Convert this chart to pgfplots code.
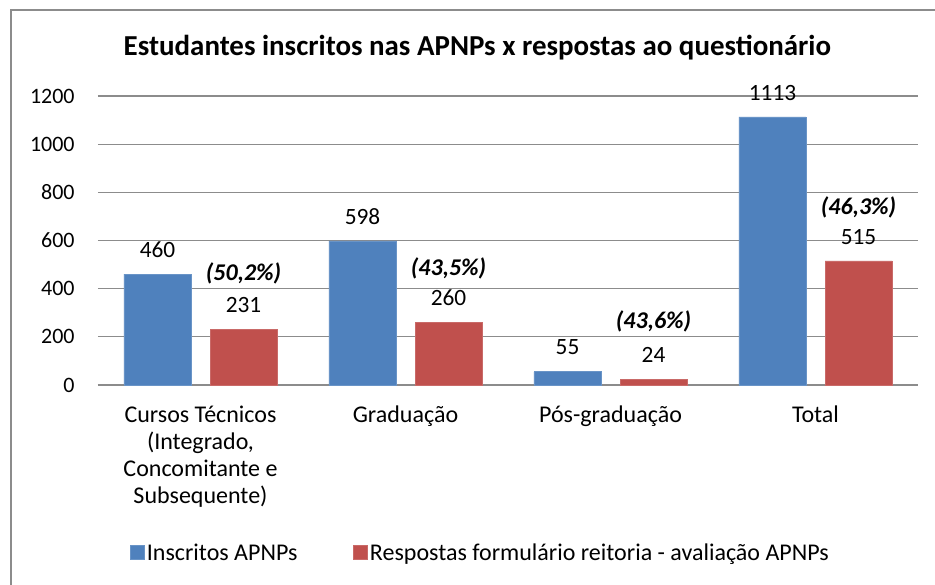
\documentclass[border=0pt]{standalone}
\usepackage{pgfplots}
\pgfplotsset{compat=1.18}
\usepackage{fontspec}
\setmainfont{Carlito}
\definecolor{cblue}{HTML}{4F81BD}
\definecolor{cred}{HTML}{C0504D}
\definecolor{cgrid}{HTML}{8C8C8C}
\begin{document}
\begin{tikzpicture}
\path[use as bounding box] (0pt,0pt) rectangle (701.25pt,438.75pt);
\draw[black!45, line width=1.8pt] (8.25pt,-8pt) -- (8.25pt,431.25pt) -- (710pt,431.25pt);
\node[font=\fontsize{21.7}{24}\selectfont\bfseries] at (358pt,402.75pt) {Estudantes inscritos nas APNPs x respostas ao questionário};
\begin{axis}[
  at={(73.5pt,150pt)}, anchor=south west,
  scale only axis, width=615pt, height=216.75pt,
  xmin=-0.5, xmax=3.5, ymin=0, ymax=1200,
  ytick={0,200,...,1200},
  xtick={0,1,2,3},
  xticklabels={{Cursos Técnicos\\(Integrado,\\Concomitante e\\Subsequente)},Graduação,Pós-graduação,Total},
  xticklabel style={align=center, font=\fontsize{18}{20.25}\selectfont, yshift=-12pt},
  yticklabel style={font=\fontsize{16.5}{18}\selectfont, xshift=-14pt},
  /pgf/number format/assume math mode=true,
  /pgf/number format/set thousands separator={},
  major tick length=0pt,
  ymajorgrids, grid style={cgrid, line width=0.8pt},
  axis line style={draw=none},
  clip=false,
  legend style={at={(0.467,-0.581)}, anchor=center, draw=none, legend columns=2,
    font=\fontsize{18}{20}\selectfont, /tikz/every even column/.append style={column sep=40pt}},
  legend image code/.code={\fill[#1] (0pt,-5pt) rectangle (10pt,5.5pt);},
]
\draw[cgrid, line width=0.8pt] (axis cs:-0.5,0) -- (axis cs:3.5,0);
\addplot[ybar, bar width=0.327, bar shift=-0.21, fill=cblue, draw=cblue!85!white,
  nodes near coords, every node near coord/.append style={font=\fontsize{17.5}{18}\selectfont, black, yshift=9pt, xshift=-32.25pt}]
  coordinates {(0,460) (1,598) (2,55) (3,1113)};
\addlegendentry{Inscritos APNPs}
\addplot[ybar, bar width=0.327, bar shift=0.21, fill=cred, draw=cred!85!white,
  nodes near coords, every node near coord/.append style={font=\fontsize{17.5}{18}\selectfont, black, yshift=9pt, xshift=32.25pt}]
  coordinates {(0,231) (1,260) (2,24) (3,515)};
\addlegendentry{Respostas formulário reitoria - avaliação APNPs}
\addplot[only marks, mark=none, forget plot, point meta=explicit symbolic,
  nodes near coords, every node near coord/.append style={font=\fontsize{18}{18}\selectfont\bfseries\itshape, black, anchor=center}]
  table[meta=lab] {
x y lab
0.21 465 (50,2\%)
1.21 486 (43,5\%)
2.21 262 (43,6\%)
3.21 739 (46,3\%)
};
\end{axis}
\end{tikzpicture}
\end{document}
